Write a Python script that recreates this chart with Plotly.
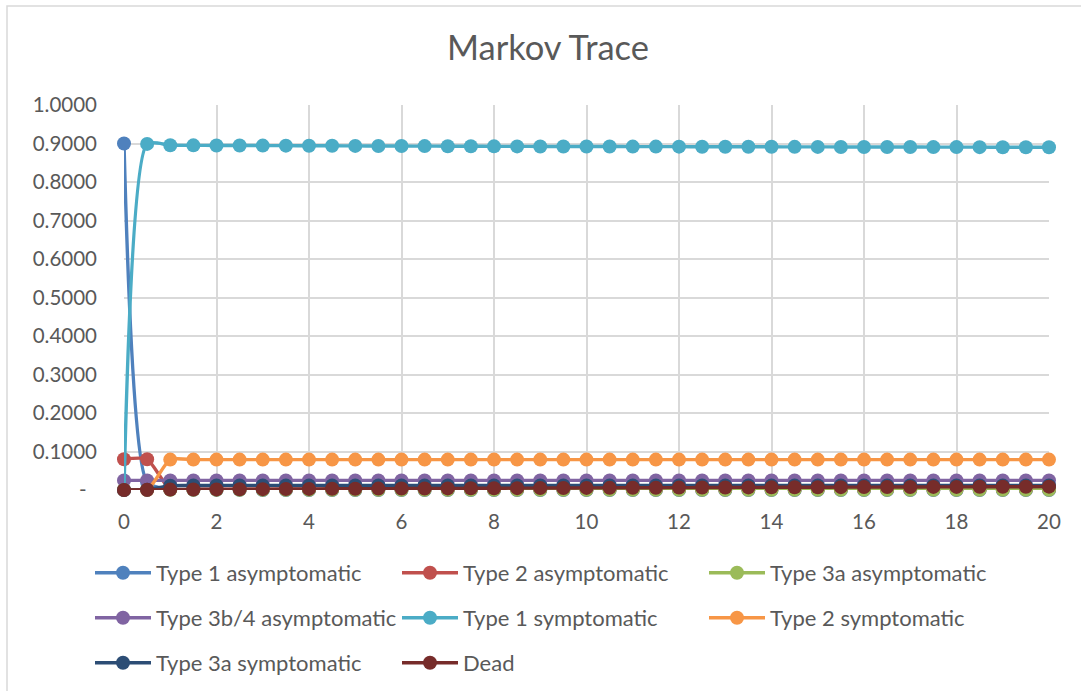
import plotly.graph_objects as go

cycles = [0, 0.5, 1, 1.5, 2, 2.5, 3, 3.5, 4, 4.5, 5, 5.5, 6, 6.5, 7, 7.5, 8, 8.5, 9, 9.5,
          10, 10.5, 11, 11.5, 12, 12.5, 13, 13.5, 14, 14.5, 15, 15.5, 16, 16.5, 17, 17.5,
          18, 18.5, 19, 19.5, 20]

type1_asym = [0.9000, 0.0200, 0.0010, 0.0005, 0.0003, 0.0002, 0.0001, 0.0000, 0.0000, 0.0000,
              0.0000, 0.0000, 0.0000, 0.0000, 0.0000, 0.0000, 0.0000, 0.0000, 0.0000, 0.0000,
              0.0000, 0.0000, 0.0000, 0.0000, 0.0000, 0.0000, 0.0000, 0.0000, 0.0000, 0.0000,
              0.0000, 0.0000, 0.0000, 0.0000, 0.0000, 0.0000, 0.0000, 0.0000, 0.0000, 0.0000,
              0.0000]
type2_asym = [0.0800, 0.0800, 0.0020, 0.0020, 0.0020, 0.0020, 0.0020, 0.0020, 0.0020, 0.0020,
              0.0020, 0.0020, 0.0020, 0.0020, 0.0020, 0.0020, 0.0020, 0.0020, 0.0020, 0.0020,
              0.0020, 0.0020, 0.0020, 0.0020, 0.0020, 0.0020, 0.0020, 0.0020, 0.0020, 0.0020,
              0.0020, 0.0020, 0.0020, 0.0020, 0.0020, 0.0020, 0.0020, 0.0020, 0.0020, 0.0020,
              0.0020]
type3a_asym = [0.0010, 0.0005, 0.0005, 0.0005, 0.0005, 0.0005, 0.0005, 0.0005, 0.0005, 0.0005,
               0.0005, 0.0005, 0.0005, 0.0005, 0.0005, 0.0005, 0.0005, 0.0005, 0.0005, 0.0005,
               0.0005, 0.0005, 0.0005, 0.0005, 0.0005, 0.0005, 0.0005, 0.0005, 0.0005, 0.0005,
               0.0005, 0.0005, 0.0005, 0.0005, 0.0005, 0.0005, 0.0005, 0.0005, 0.0005, 0.0005,
               0.0005]
type3b4_asym = [0.0250, 0.0250, 0.0250, 0.0250, 0.0250, 0.0250, 0.0250, 0.0250, 0.0250, 0.0250,
                0.0250, 0.0250, 0.0250, 0.0250, 0.0250, 0.0250, 0.0250, 0.0250, 0.0250, 0.0250,
                0.0250, 0.0250, 0.0250, 0.0250, 0.0250, 0.0250, 0.0250, 0.0250, 0.0250, 0.0250,
                0.0250, 0.0250, 0.0250, 0.0250, 0.0250, 0.0250, 0.0250, 0.0250, 0.0250, 0.0250,
                0.0250]
type1_symp = [0.0000, 0.8990, 0.8955, 0.8952, 0.8950, 0.8948, 0.8946, 0.8944, 0.8942, 0.8940,
              0.8938, 0.8936, 0.8934, 0.8932, 0.8930, 0.8928, 0.8926, 0.8925, 0.8924, 0.8923,
              0.8922, 0.8921, 0.8920, 0.8919, 0.8918, 0.8917, 0.8916, 0.8915, 0.8914, 0.8913,
              0.8912, 0.8911, 0.8910, 0.8909, 0.8908, 0.8907, 0.8906, 0.8905, 0.8904, 0.8903,
              0.8902]
type2_symp = [0.0000, 0.0000, 0.0790, 0.0790, 0.0790, 0.0790, 0.0790, 0.0790, 0.0790, 0.0790,
              0.0790, 0.0790, 0.0790, 0.0790, 0.0790, 0.0790, 0.0790, 0.0790, 0.0790, 0.0790,
              0.0790, 0.0790, 0.0790, 0.0790, 0.0790, 0.0790, 0.0790, 0.0790, 0.0790, 0.0790,
              0.0790, 0.0790, 0.0790, 0.0790, 0.0790, 0.0790, 0.0790, 0.0790, 0.0790, 0.0790,
              0.0790]
type3a_symp = [0.0000, 0.0005, 0.0110, 0.0115, 0.0118, 0.0120, 0.0120, 0.0120, 0.0120, 0.0120,
               0.0120, 0.0120, 0.0120, 0.0120, 0.0120, 0.0120, 0.0120, 0.0120, 0.0120, 0.0120,
               0.0120, 0.0120, 0.0120, 0.0120, 0.0120, 0.0120, 0.0120, 0.0120, 0.0120, 0.0120,
               0.0120, 0.0120, 0.0120, 0.0120, 0.0120, 0.0120, 0.0120, 0.0120, 0.0120, 0.0120,
               0.0120]
dead = [0.0000, 0.0005, 0.0010, 0.0013, 0.0016, 0.0019, 0.0022, 0.0025, 0.0028, 0.0031,
        0.0034, 0.0036, 0.0038, 0.0040, 0.0042, 0.0044, 0.0046, 0.0048, 0.0050, 0.0052,
        0.0054, 0.0056, 0.0058, 0.0060, 0.0062, 0.0064, 0.0066, 0.0068, 0.0069, 0.0070,
        0.0072, 0.0074, 0.0075, 0.0077, 0.0078, 0.0080, 0.0081, 0.0083, 0.0084, 0.0086,
        0.0087]

series = [
    ("Type 1 asymptomatic", type1_asym, "#4F81BD", "legend"),
    ("Type 2 asymptomatic", type2_asym, "#C0504D", "legend"),
    ("Type 3a asymptomatic", type3a_asym, "#9BBB59", "legend"),
    ("Type 3b/4 asymptomatic", type3b4_asym, "#8064A2", "legend2"),
    ("Type 1 symptomatic", type1_symp, "#4BACC6", "legend2"),
    ("Type 2 symptomatic", type2_symp, "#F79646", "legend2"),
    ("Type 3a symptomatic", type3a_symp, "#2C4D75", "legend3"),
    ("Dead", dead, "#772C2A", "legend3"),
]

y_ticks = [0, 0.1, 0.2, 0.3, 0.4, 0.5, 0.6, 0.7, 0.8, 0.9, 1.0]
y_labels = ["-\u00a0\u00a0", "0.1000", "0.2000", "0.3000", "0.4000", "0.5000",
            "0.6000", "0.7000", "0.8000", "0.9000", "1.0000"]
x_ticks = [0, 2, 4, 6, 8, 10, 12, 14, 16, 18, 20]

FONT = "Lato, Liberation Sans, sans-serif"
TXT = "#595959"
GRID = "#D9D9D9"

fig = go.Figure()
for name, vals, col, lg in series:
    fig.add_trace(go.Scatter(
        x=cycles, y=vals, name=name, mode="lines+markers",
        line=dict(color=col, width=3.4, shape="spline", smoothing=0.6),
        marker=dict(color=col, size=14),
        cliponaxis=False, legend=lg,
    ))

W, H = 1081, 691
L, R, T, B = 124, 1049, 105, 490
pw, ph = R - L, B - T

def px(x):
    return (x - L) / pw

def py(y):
    return (B - y) / ph

leg_common = dict(orientation="h", xanchor="left", yanchor="middle",
                  entrywidth=236, itemwidth=56, traceorder="normal",
                  font=dict(family=FONT, size=22, color=TXT),
                  bgcolor="rgba(0,0,0,0)")

fig.update_layout(
    width=W, height=H,
    margin=dict(l=L, r=W - R, t=T, b=H - B, autoexpand=False),
    paper_bgcolor="white", plot_bgcolor="white",
    title=dict(text="Markov Trace", x=548 / W, xanchor="center",
               y=1 - 48 / H, yanchor="middle",
               font=dict(family=FONT, size=34.5, color=TXT)),
    xaxis=dict(range=[0, 20], tickvals=x_ticks, showgrid=True, gridcolor=GRID,
               gridwidth=1.5, zeroline=False, showline=False, ticks="",
               ticklabelstandoff=17,
               tickfont=dict(family=FONT, size=20.5, color=TXT)),
    yaxis=dict(range=[0, 1.0], tickvals=y_ticks, ticktext=y_labels, showgrid=True,
               gridcolor=GRID, gridwidth=1.5, zeroline=False, showline=False, ticks="",
               ticklabelstandoff=26,
               tickfont=dict(family=FONT, size=20.5, color=TXT)),
    legend=dict(x=px(90), y=py(573), **leg_common),
    legend2=dict(x=px(90), y=py(618), **leg_common),
    legend3=dict(x=px(90), y=py(663), **leg_common),
    shapes=[dict(type="rect", xref="paper", yref="paper",
                 x0=px(7), x1=px(1100), y0=py(700), y1=py(6),
                 line=dict(color=GRID, width=1.5), layer="below")],
    showlegend=True,
)

fig.write_html("out.html", config={"displayModeBar": False},
               post_script="document.body.style.margin='0';document.body.style.padding='0';")
